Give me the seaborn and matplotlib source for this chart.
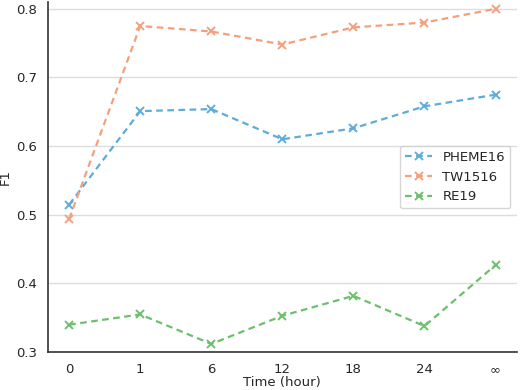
import matplotlib
matplotlib.use("Agg")
import matplotlib.pyplot as plt
import seaborn as sns
import pandas as pd

hours = ["0", "1", "6", "12", "18", "24", "∞"]
pheme16 = [0.515, 0.651, 0.654, 0.610, 0.626, 0.658, 0.675]
tw1516 = [0.494, 0.775, 0.767, 0.748, 0.773, 0.780, 0.800]
re19 = [0.340, 0.355, 0.312, 0.353, 0.382, 0.338, 0.427]

series = {"PHEME16": pheme16, "TW1516": tw1516, "RE19": re19}
colors = {"PHEME16": "#5dacdb", "TW1516": "#f4a07c", "RE19": "#6cc06c"}

sns.set_style("white")
plt.rcParams["font.family"] = ["DejaVu Sans"]

fig = plt.figure(figsize=(5.2, 3.9), dpi=100)
ax = fig.add_axes([0.092, 0.097, 0.902, 0.898])

for name, vals in series.items():
    df = pd.DataFrame({"pos": range(len(hours)), "f1": vals})
    sns.lineplot(data=df, x="pos", y="f1", ax=ax, color=colors[name],
                 linestyle=(0, (3, 2)), marker="x", markersize=6, markeredgewidth=1.4,
                 markeredgecolor=colors[name], linewidth=1.6, label=name)

ax.set_xticks(range(len(hours)))
ax.set_xticklabels(hours)
ax.set_xlim(-0.3, 6.3)
ax.set_ylim(0.3, 0.81)
ax.set_yticks([0.3, 0.4, 0.5, 0.6, 0.7, 0.8])
ax.set_xlabel("Time (hour)", fontsize=9.5, labelpad=0)
ax.set_ylabel("F1", fontsize=9.5)
ax.yaxis.set_label_coords(-0.077, 0.5)
ax.tick_params(axis="x", labelsize=9.5, length=0, pad=8)
ax.tick_params(axis="y", labelsize=9.5, length=0, pad=8)
ax.yaxis.grid(True, color="#dddddd", linewidth=1)
ax.set_axisbelow(True)
for s in ["top", "right"]:
    ax.spines[s].set_visible(False)
for s in ["left", "bottom"]:
    ax.spines[s].set_color("#333333")
    ax.spines[s].set_linewidth(1.2)

ax.legend(loc="center right", fontsize=9.5, frameon=True, edgecolor="#cccccc")

fig.savefig("out.png", dpi=100)
